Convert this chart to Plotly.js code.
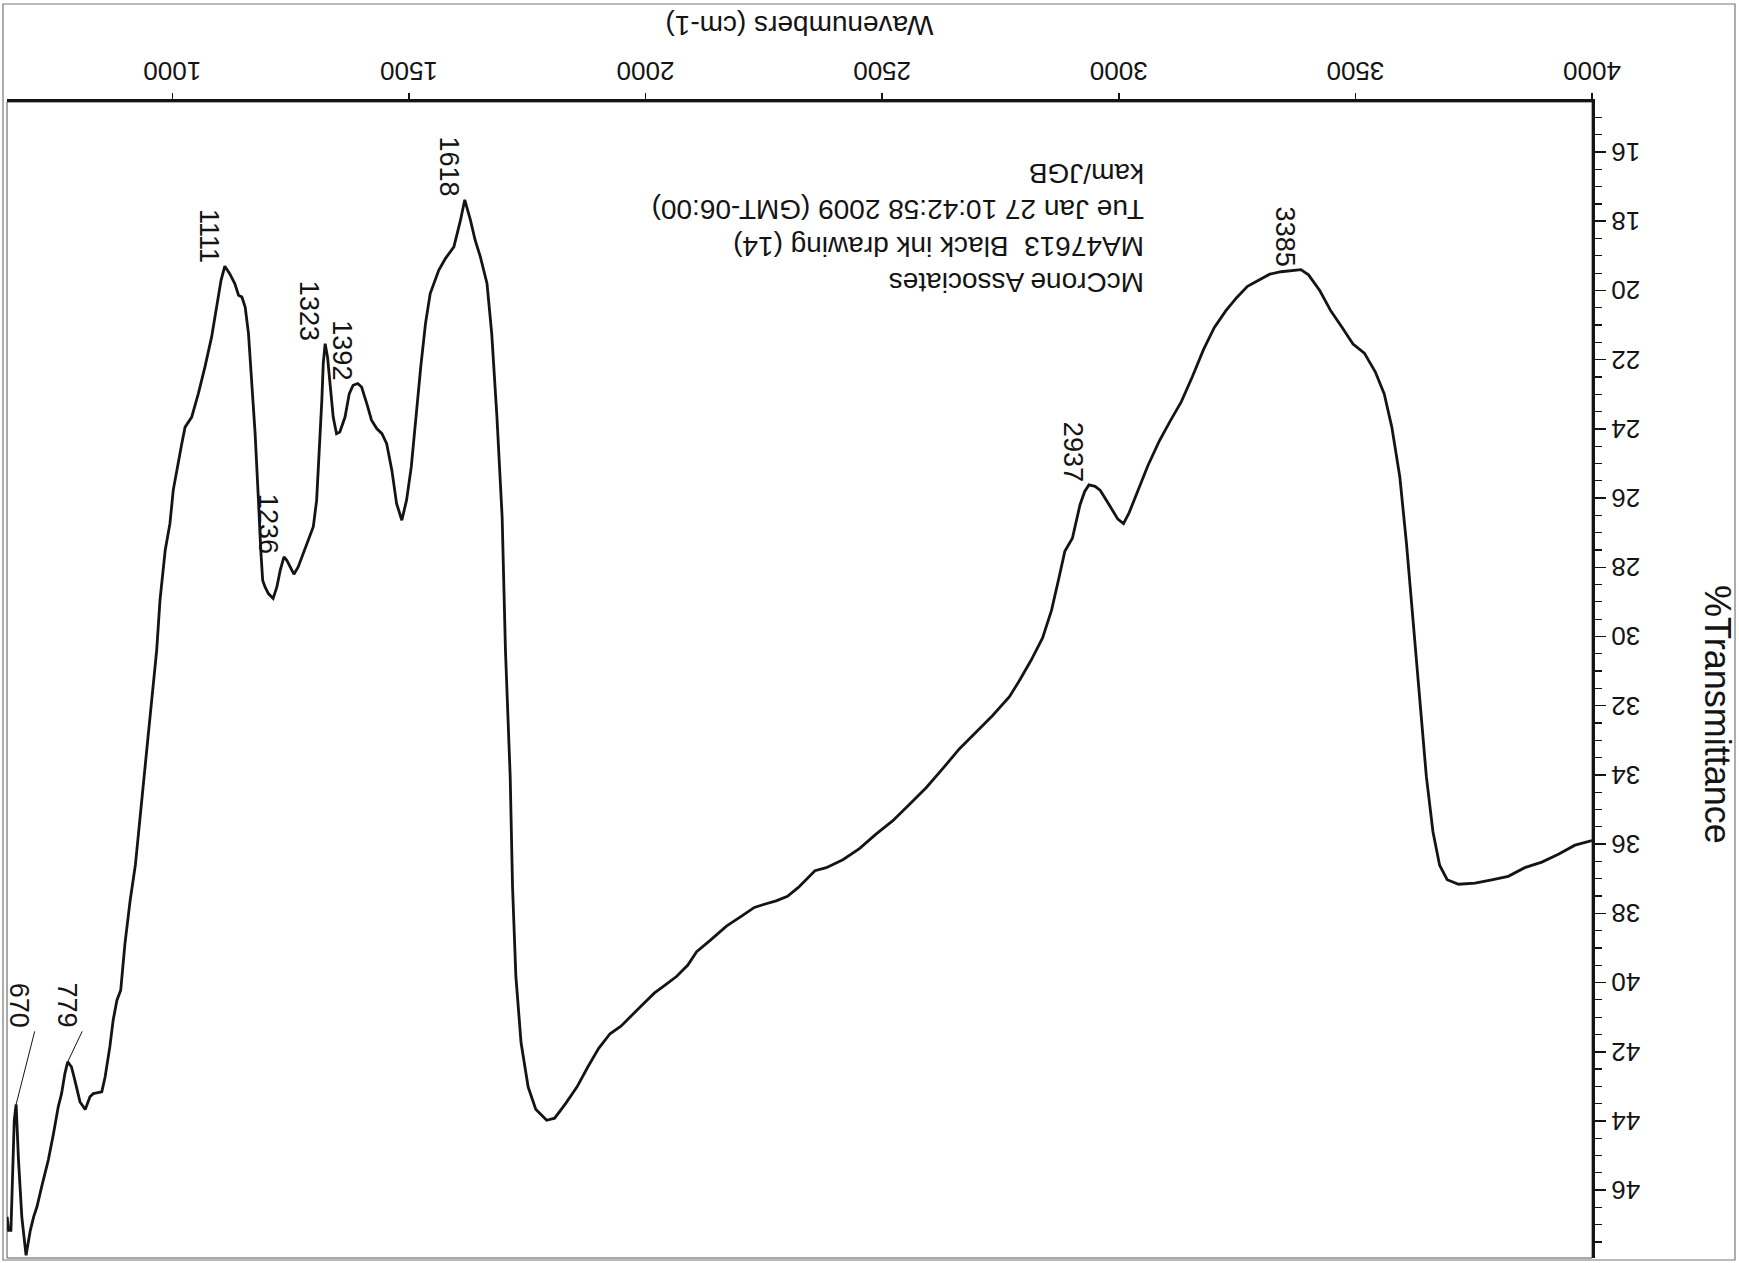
<!DOCTYPE html>
<html>
<head>
<meta charset="utf-8">
<script src="https://cdn.plot.ly/plotly-3.0.1.min.js"></script>
<style>
html,body{margin:0;padding:0;background:#fff;overflow:hidden;}
#chart{width:1739px;height:1263px;transform:rotate(180deg);transform-origin:50% 50%;}
</style>
</head>
<body>
<div id="chart"></div>
<script>
// ---- data ----
const wavenumber = [
4000,3964,3929,3894,3858,3823,3788,3753,3718,3694,3678,3664,3650,3636,3622,3608,3594,3577,3561,3542,
3519,3495,3472,3448,3425,3401,3385,3366,3343,3319,3296,3272,3249,3226,3202,3179,3155,3132,3108,3085,
3061,3038,3022,3010,2998,2980,2961,2950,2937,2928,2918,2902,2886,2874,2858,2839,2815,2792,2769,2733,
2698,2663,2628,2593,2558,2522,2487,2452,2417,2382,2358,2347,2323,2300,2276,2253,2230,2206,2171,2136,
2108,2089,2066,2042,2019,1995,1972,1948,1925,1901,1878,1855,1831,1808,1791,1768,1752,1737,1726,1719,
1714,1704,1697,1686,1675,1665,1651,1640,1630,1618,1609,1595,1577,1563,1545,1535,1525,1515,1505,1495,
1485,1474,1464,1453,1443,1432,1421,1411,1400,1392,1382,1374,1365,1354,1347,1340,1333,1328,1323,1319,
1316,1311,1305,1298,1287,1277,1266,1257,1249,1242,1236,1228,1221,1213,1203,1196,1191,1187,1182,1175,
1168,1161,1154,1147,1140,1132,1121,1111,1103,1093,1083,1069,1055,1041,1034,1027,1020,1009,1002,995,
985,974,967,952,936,922,911,900,891,883,875,868,858,851,833,826,816,805,794,787,
779,773,766,759,749,738,724,714,707,700,691,682,675,670,666,663,659,654,651
];
const transmittance = [
35.90,36.03,36.29,36.52,36.68,36.93,37.03,37.13,37.16,37.03,36.61,35.65,34.05,31.81,29.56,27.32,25.40,23.95,22.99,22.35,
21.81,21.55,21.07,20.59,20.01,19.55,19.40,19.42,19.46,19.53,19.69,19.88,20.21,20.59,21.07,21.71,22.51,23.22,23.79,24.37,
25.08,25.88,26.42,26.74,26.61,26.20,25.78,25.66,25.62,25.81,26.20,27.16,27.54,28.28,29.24,30.04,30.68,31.23,31.74,32.29,
32.77,33.25,33.82,34.37,34.85,35.33,35.71,36.13,36.45,36.68,36.77,36.93,37.25,37.51,37.64,37.73,37.83,38.05,38.37,38.79,
39.11,39.50,39.82,40.07,40.30,40.62,40.94,41.26,41.48,41.90,42.44,43.02,43.50,43.92,43.98,43.66,43.02,41.74,39.82,37.25,
34.05,30.40,26.55,23.66,21.25,19.80,19.03,18.55,17.97,17.38,17.97,18.74,19.08,19.42,20.09,20.96,22.21,23.66,25.10,26.06,
26.64,26.16,25.20,24.43,24.14,23.99,23.75,23.27,22.79,22.69,22.74,22.98,23.66,24.09,24.14,23.66,22.69,21.92,21.54,22.11,
23.17,24.62,26.06,26.83,27.22,27.60,27.99,28.20,27.99,27.80,27.70,28.09,28.57,28.90,28.76,28.57,28.38,27.51,26.06,24.14,
22.69,21.25,20.48,20.19,20.14,19.80,19.51,19.30,19.71,20.48,21.35,22.21,22.98,23.66,23.80,23.95,24.43,25.20,25.77,26.74,
27.51,28.95,30.40,32.45,34.70,36.60,37.62,38.87,40.22,40.51,41.09,41.86,42.73,43.16,43.21,43.30,43.67,43.45,42.82,42.44,
42.29,42.63,43.21,43.59,44.36,45.13,45.90,46.48,46.77,47.16,47.88,46.77,45.13,43.52,43.98,45.52,47.16,47.16,46.77
];

// peak labels (text), the peak they belong to, and where each label is anchored
const peakLabels = ['3385','2937','1618','1392','1323','1236','1111','779','670'];
const peakX      = [3385, 2937, 1618, 1392, 1323, 1236, 1111, 779, 670];
const peakY      = [19.40, 25.62, 17.38, 22.69, 21.54, 27.70, 19.30, 42.29, 43.52];
const labelX     = [3385, 2937, 1618, 1392, 1323, 1236, 1111, 810.6, 709.8];
const labelY     = [19.40, 25.62, 17.38, 22.69, 21.54, 27.70, 19.30, 41.38, 41.38];

const headerLines = ['McCrone Associates', 'MA47613\u00a0\u00a0Black ink drawing (14)', 'Tue Jan 27 10:42:58 2009 (GMT-06:00)', 'kam/JGB'];
const headerPos = [3056, 18.2];

const xTitle = 'Wavenumbers (cm-1)';
const yTitle = '%Transmittance';
const xRange = [4000, 650.7];
const yRange = [14.555, 47.96];

// ---- figure ----
const FONT = 'Liberation Sans, Arial, Helvetica, sans-serif';
const INK = '#141414';

const trace = {
  x: wavenumber, y: transmittance, type: 'scatter', mode: 'lines',
  line: {color: INK, width: 2.8}, hoverinfo: 'skip'
};

const L = 147, R = 7, T = 5, B = 102, W = 1739, H = 1263;
const pw = W - L - R, ph = H - T - B;
const px = v => (v - L) / pw;            // page x -> paper
const py = v => (H - B - v) / ph;        // page y -> paper

const annotations = [];
annotations.push({
  xref: 'x', yref: 'y', x: headerPos[0], y: headerPos[1],
  xanchor: 'left', yanchor: 'middle', align: 'left', showarrow: false, borderpad: 0,
  text: headerLines.join('<br>'), font: {family: FONT, size: 28, color: INK}
});
for (let i = 0; i < peakLabels.length; i++) {
  const leader = (labelX[i] !== peakX[i] || labelY[i] !== peakY[i]);
  if (leader) {
    annotations.push({
      xref: 'x', yref: 'y', x: peakX[i], y: peakY[i],
      axref: 'x', ayref: 'y', ax: labelX[i], ay: labelY[i],
      text: ' ', font: {size: 1}, showarrow: true, arrowhead: 0, arrowwidth: 1,
      arrowcolor: INK, standoff: 0, startstandoff: 0, borderpad: 0
    });
  }
  annotations.push({
    xref: 'x', yref: 'y', x: labelX[i], y: labelY[i],
    text: peakLabels[i], textangle: -90, showarrow: false,
    xanchor: 'left', yanchor: 'top', borderpad: 0, yshift: -2,
    font: {family: FONT, size: 27, color: INK}
  });
}
// y-axis title, placed where the instrument printed it (slightly above centre)
annotations.push({
  xref: 'paper', yref: 'paper', x: px(21), y: py(549),
  xanchor: 'center', yanchor: 'middle', textangle: -90, showarrow: false,
  text: yTitle, font: {family: FONT, size: 36, color: INK}
});

const layout = {
  width: W, height: H,
  margin: {l: L, r: R, t: T, b: B, pad: 0},
  paper_bgcolor: '#ffffff', plot_bgcolor: '#ffffff',
  showlegend: false,
  font: {family: FONT, color: INK},
  xaxis: {
    range: xRange, tickmode: 'linear', tick0: 0, dtick: 500,
    ticks: 'outside', ticklen: 6, tickwidth: 1.5, tickcolor: INK,
    showline: true, linewidth: 3, linecolor: INK,
    showgrid: false, zeroline: false,
    tickfont: {family: FONT, size: 26, color: INK},
    ticklabelstandoff: 0,
    title: {text: xTitle, font: {family: FONT, size: 28, color: INK}, standoff: 22}
  },
  yaxis: {
    range: yRange, tickmode: 'linear', tick0: 0, dtick: 2,
    ticks: 'outside', ticklen: 11, tickwidth: 1.5, tickcolor: INK,
    minor: {tickmode: 'linear', tick0: 0, dtick: 0.5, ticks: 'outside', ticklen: 7, tickwidth: 1.2, tickcolor: INK, showgrid: false},
    showline: true, linewidth: 3, linecolor: INK,
    showgrid: false, zeroline: false,
    tickfont: {family: FONT, size: 26, color: INK},
    ticklabelstandoff: 0
  },
  shapes: [
    {type: 'rect', xref: 'paper', yref: 'paper', x0: 0, x1: 1, y0: 0, y1: 1,
     line: {color: '#555', width: 1}, layer: 'below'},
    {type: 'rect', xref: 'paper', yref: 'paper', x0: px(4), x1: px(1736), y0: py(1259), y1: py(3),
     line: {color: '#777', width: 1.2}, layer: 'below'}
  ],
  annotations: annotations
};

Plotly.newPlot('chart', [trace], layout, {staticPlot: true, displayModeBar: false});
</script>
</body>
</html>
